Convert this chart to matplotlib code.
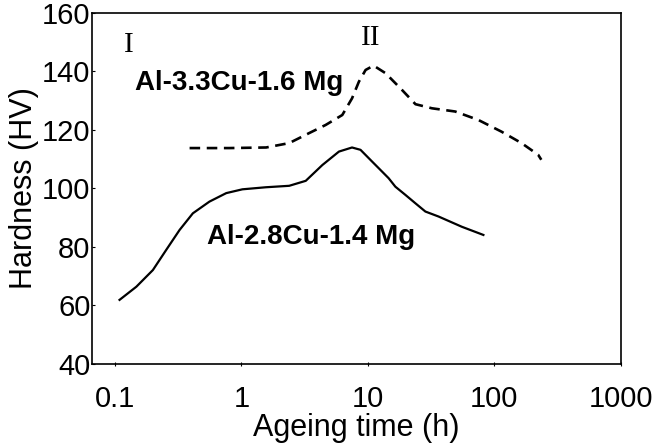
import matplotlib.pyplot as plt

# Ageing curves (time in h, hardness in HV)
solid_t = [0.109, 0.148, 0.200, 0.255, 0.325, 0.414, 0.56, 0.76, 1.02,
           1.56, 2.39, 3.23, 4.37, 5.91, 7.5, 8.75, 10.8, 12.2, 14.6,
           16.5, 19.8, 23.8, 28.5, 36.2, 55.3, 81.9]
solid_hv = [61.9, 66.4, 72.1, 79.0, 85.8, 91.5, 95.5, 98.4, 99.7,
            100.4, 100.9, 102.6, 108.0, 112.6, 114.0, 113.2, 109.2, 106.9, 103.5,
            100.6, 97.8, 94.9, 92.1, 90.4, 86.9, 84.1]

dashed_t = [0.39, 0.8, 1.57, 2.39, 3.43, 4.64, 6.28, 7.5, 8.5, 9.6, 11.1,
            13.8, 18.6, 23.8, 32.1, 49, 74.8, 114, 164, 222, 235]
dashed_hv = [113.8, 113.8, 114.0, 115.5, 118.9, 121.7, 125.1, 130.8, 136.5,
             140.5, 142.0, 139.4, 133.7, 128.8, 127.4, 126.3, 123.4, 119.4,
             115.5, 111.5, 109.8]

xticks = [0.1, 1, 10, 100, 1000]
xtick_labels = ['0.1', '1', '10', '100', '1000']
yticks = [40, 60, 80, 100, 120, 140, 160]

plt.rcParams['font.family'] = ['Liberation Sans', 'DejaVu Sans']

fig = plt.figure(figsize=(6.57, 4.46), dpi=100)
ax = fig.add_axes([0.140, 0.184, 0.805, 0.787])

ax.plot(solid_t, solid_hv, color='black', lw=1.6, solid_joinstyle='round')
ax.plot(dashed_t, dashed_hv, color='black', lw=1.9, linestyle=(0, (4, 2.5)))

ax.set_xscale('log')
ax.set_xlim(0.066, 1000)
ax.set_ylim(40, 160)
ax.set_xticks(xticks)
ax.set_xticklabels(xtick_labels)
ax.minorticks_off()
ax.set_yticks(yticks)

ax.tick_params(axis='x', labelsize=21, length=3, direction='inout', pad=14)
ax.tick_params(axis='y', labelsize=21, length=2, direction='in', pad=1)
for spine in ax.spines.values():
    spine.set_linewidth(1.2)

ax.set_xlabel('Ageing time (h)', fontsize=22, labelpad=0)
ax.set_ylabel('Hardness (HV)', fontsize=22, labelpad=2)

# Curve labels and stage markers
ax.text(0.144, 136, 'Al-3.3Cu-1.6 Mg', fontsize=20, fontweight='bold',
        va='center')
ax.text(0.54, 83.4, 'Al-2.8Cu-1.4 Mg', fontsize=20, fontweight='bold',
        va='center')
ax.text(0.13, 149, 'I', fontsize=21, family='Liberation Serif',
        ha='center', va='center')
ax.text(10.6, 151.5, 'II', fontsize=21, family='Liberation Serif',
        ha='center', va='center')

fig.savefig('out.png', dpi=100)
